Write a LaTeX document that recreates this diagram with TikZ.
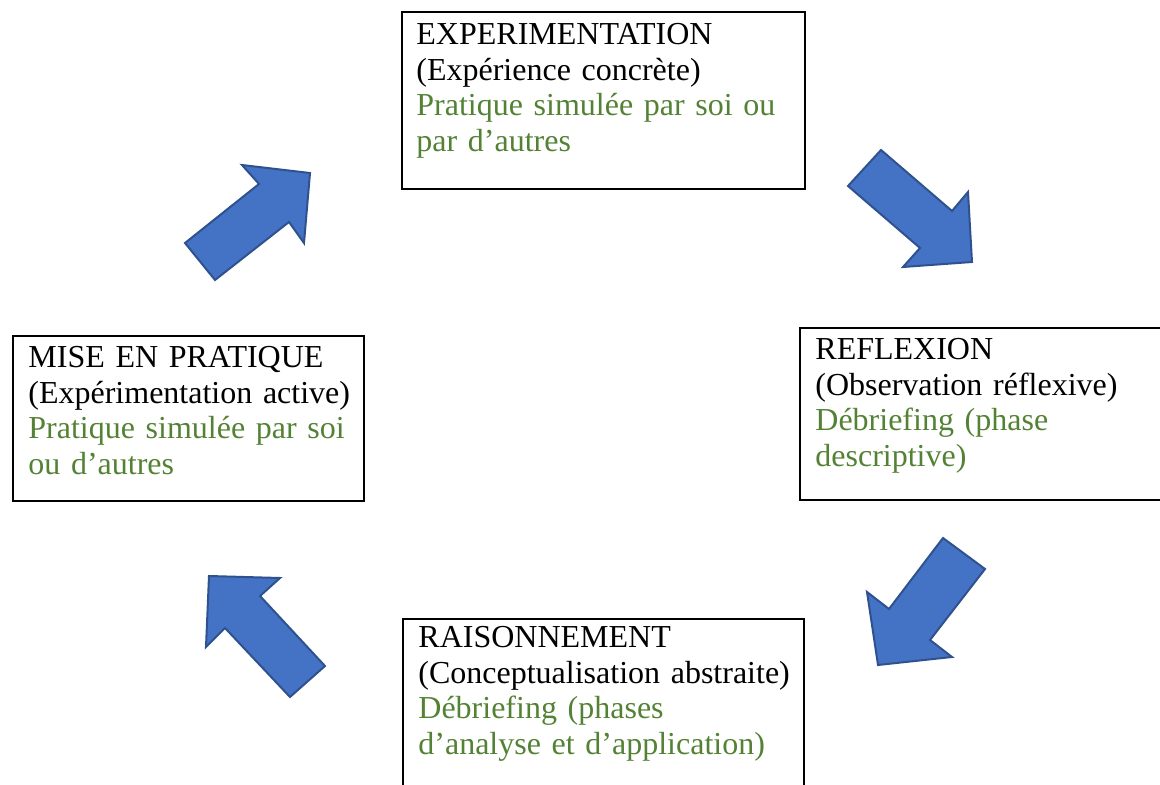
\documentclass[tikz,border=0pt]{standalone}
\usepackage{fontspec}
\setmainfont{Liberation Serif}
\usetikzlibrary{positioning}
\definecolor{notegreen}{RGB}{84,130,53}
\definecolor{arrowfill}{RGB}{68,114,196}
\definecolor{arrowline}{RGB}{47,82,143}
\newcommand{\stagefont}{\fontsize{16}{17.8}\selectfont\spaceskip=3.3pt plus 1pt minus 0.5pt\relax}
\tikzset{
  stage/.style={draw, line width=1.1pt, anchor=north west, inner sep=0pt},
  stagetext/.style={align=left, text width=190pt, inner sep=0pt, font=\stagefont},
  cyclearrow/.style={fill=arrowfill, draw=arrowline, line width=1pt, line join=miter}
}
\newcommand{\greentext}[1]{\textcolor{notegreen}{#1}}
\begin{document}
\begin{tikzpicture}[x=0.5pt, y=-0.5pt]
  \useasboundingbox (0,0) rectangle (1160,785);
  \clip (0,0) rectangle (1160,785);
  % the four stages
  \node[stage, minimum width=201.5pt, minimum height=88.5pt] (expe) at (401,11)  {};
  \node[stage, minimum width=185.5pt, minimum height=86pt]   (refl) at (799,327) {};
  \node[stage, minimum width=200.5pt, minimum height=91pt]   (rais) at (402,618) {};
  \node[stage, minimum width=175.5pt, minimum height=82.5pt] (mise) at (12,335)  {};
  \node[stagetext, below right=6pt and 7.5pt of expe.north west] (expe-t)
    {EXPERIMENTATION\\(Expérience concrète)\\\greentext{Pratique simulée par soi ou}\\\greentext{par d’autres}};
  \node[stagetext, below right=5.5pt and 8pt of refl.north west] (refl-t)
    {REFLEXION\\(Observation réflexive)\\\greentext{Débriefing (phase}\\\greentext{descriptive)}};
  \node[stagetext, below right=4pt and 8pt of rais.north west] (rais-t)
    {RAISONNEMENT\\(Conceptualisation abstraite)\\\greentext{Débriefing (phases}\\\greentext{d’analyse et d’application)}};
  \node[stagetext, below right=5.5pt and 8pt of mise.north west] (mise-t)
    {MISE EN PRATIQUE\\(Expérimentation active)\\\greentext{Pratique simulée par soi}\\\greentext{ou d’autres}};
  % block arrows of the cycle
  \draw[cyclearrow] (848,186) -- (881,150) -- (952,211) -- (968,192) -- (972,262) -- (903,267) -- (920,248) -- cycle;
  \draw[cyclearrow] (943,538) -- (985,569) -- (930,640) -- (952,657) -- (878,665) -- (867,592) -- (889,609) -- cycle;
  \draw[cyclearrow] (290,697) -- (325,666) -- (260,596) -- (280,578) -- (209,576) -- (206,647) -- (225,628) -- cycle;
  \draw[cyclearrow] (185,243) -- (259,184) -- (242,165) -- (310,173) -- (304,243) -- (289,222) -- (215,280) -- cycle;
\end{tikzpicture}
\end{document}
